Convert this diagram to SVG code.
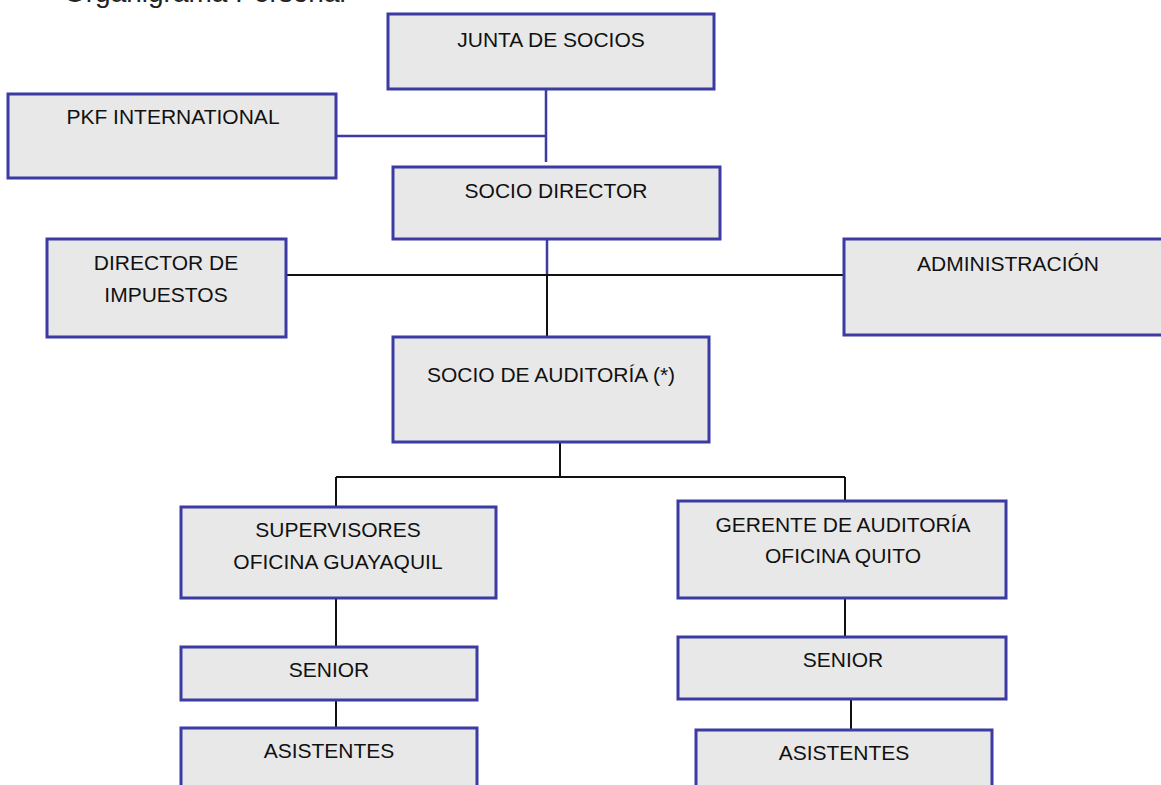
<svg xmlns="http://www.w3.org/2000/svg" width="1161" height="785" viewBox="0 0 1161 785">
<style>
.box{fill:#e8e8e8;stroke:#3b3ba3;stroke-width:3}
.t{font-family:"Liberation Sans",Arial,sans-serif;font-size:21px;fill:#111;text-anchor:middle}
.cb{stroke:#3b3ba3;stroke-width:2.5;fill:none}
.ck{stroke:#111;stroke-width:2;fill:none}
</style>
<rect width="1161" height="785" fill="#fff"/>
<text x="64" y="2" style="font-family:'Liberation Sans',Arial,sans-serif;font-size:28px;fill:#222">Organigrama Personal</text>
<g id="connectors">
<path class="cb" d="M546 89V162M336 136H546"/>
<path class="cb" d="M547 239V275"/>
<path class="ck" d="M547 275V337M286 275H844"/>
<path class="ck" d="M560 442V477M336 477H845M336 477V507M845 477V501"/>
<path class="ck" d="M336 598V647M336 700V728"/>
<path class="ck" d="M845 598V637M851 699V730"/>
</g>
<g id="junta"><rect class="box" x="388" y="14" width="326" height="75"/><text class="t" x="551" y="47">JUNTA DE SOCIOS</text></g>
<g id="pkf"><rect class="box" x="8" y="94" width="328" height="84"/><text class="t" x="173" y="124">PKF INTERNATIONAL</text></g>
<g id="socio-director"><rect class="box" x="393" y="167" width="327" height="72"/><text class="t" x="556" y="198">SOCIO DIRECTOR</text></g>
<g id="director-impuestos"><rect class="box" x="47" y="239" width="239" height="98"/><text class="t" x="166" y="270">DIRECTOR DE</text><text class="t" x="166" y="302">IMPUESTOS</text></g>
<g id="administracion"><rect class="box" x="844" y="239" width="328" height="96"/><text class="t" x="1008" y="271">ADMINISTRACIÓN</text></g>
<g id="socio-auditoria"><rect class="box" x="393" y="337" width="316" height="105"/><text class="t" x="551" y="382">SOCIO DE AUDITORÍA (*)</text></g>
<g id="supervisores"><rect class="box" x="181" y="507" width="315" height="91"/><text class="t" x="338" y="537">SUPERVISORES</text><text class="t" x="338" y="569">OFICINA GUAYAQUIL</text></g>
<g id="gerente"><rect class="box" x="678" y="501" width="328" height="97"/><text class="t" x="843" y="532">GERENTE DE AUDITORÍA</text><text class="t" x="843" y="563">OFICINA QUITO</text></g>
<g id="senior-gye"><rect class="box" x="181" y="647" width="296" height="53"/><text class="t" x="329" y="677">SENIOR</text></g>
<g id="senior-uio"><rect class="box" x="678" y="637" width="328" height="62"/><text class="t" x="843" y="667">SENIOR</text></g>
<g id="asistentes-gye"><rect class="box" x="181" y="728" width="296" height="70"/><text class="t" x="329" y="758">ASISTENTES</text></g>
<g id="asistentes-uio"><rect class="box" x="696" y="730" width="296" height="70"/><text class="t" x="844" y="760">ASISTENTES</text></g>
</svg>
